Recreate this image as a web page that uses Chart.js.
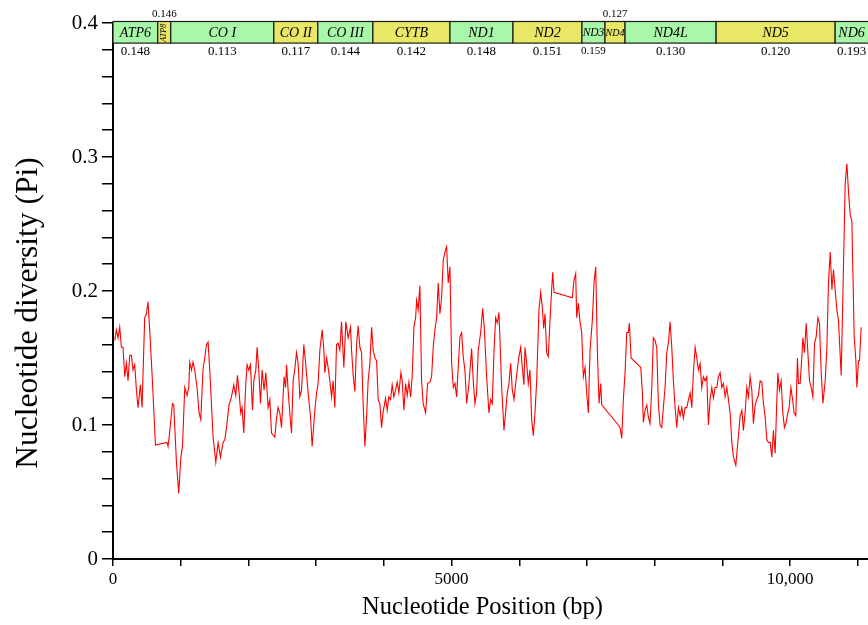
<!DOCTYPE html>
<html><head><meta charset="utf-8">
<script src="https://cdn.jsdelivr.net/npm/chart.js@4.4.1/dist/chart.umd.min.js"></script>
<style>html,body{margin:0;padding:0;background:#fff;overflow:hidden}</style>
</head><body>
<canvas id="c" width="868" height="625" style="width:868px;height:625px;display:block"></canvas>
<script>
// ---- data ----
const positions = [25,50,74,99,124,148,173,198,222,247,272,296,321,346,369,405,429,468,494,517,542,582,627,798,813,838,878,897,937,971,1000,1026,1060,1094,1119,1133,1159,1182,1207,1241,1271,1296,1330,1355,1380,1404,1429,1478,1518,1552,1587,1626,1651,1676,1714,1750,1784,1813,1838,1862,
1887,1906,1931,1961,1980,2005,2030,2060,2079,2109,2128,2153,2178,2202,2231,2257,2291,2316,2341,2390,2415,2438,2463,2489,2527,2548,2563,2586,2611,2636,2660,2685,2710,2734,2759,2784,2818,2843,2882,2917,2941,2981,3006,3029,3055,3089,3114,3128,3154,3177,3202,3228,3251,3276,3301,3325,3350,3375,3409,3439,3473,3508,3523,3547,3572,3597,3621,3646,3671,3694,3720,
3745,3768,3794,3819,3842,3867,3893,3916,3941,3966,3990,4026,4049,4074,4099,4123,4148,4173,4197,4222,4252,4271,4296,4321,4345,4370,4395,4419,4444,4469,4484,4507,4532,4557,4581,4617,4646,4680,4705,4729,4754,4779,4803,4828,4853,4877,4902,4927,4951,4976,5001,5025,5050,5075,5098,5124,5149,5172,5197,5223,5257,5296,5320,5345,5370,5394,5430,5459,5483,
5518,5552,5577,5601,5626,5651,5675,5700,5740,5774,5799,5823,5848,5873,5897,5922,5947,5970,5995,6021,6044,6069,6084,6109,6133,6158,6183,6207,6232,6257,6291,6316,6340,6360,6380,6405,6428,6454,6479,6494,6513,6783,6808,6833,6848,6872,6897,6922,6946,6971,6996,7020,7045,7079,7104,7129,7153,7178,7203,7218,
7463,7488,7513,7537,7562,7587,7611,7626,7651,7794,7818,7832,7857,7883,7906,7931,7957,7980,8005,8030,8054,8079,8104,8128,8153,8178,8202,8227,8252,8276,8301,8326,8350,8375,8400,8424,8449,8474,8498,8523,8548,8571,8597,8622,8645,8670,8695,8719,8744,8769,8793,8818,8843,8867,8892,8917,8941,8966,8991,9015,9040,9065,9089,9114,9139,9163,9198,9222,9247,9262,
9287,9310,9335,9360,9384,9409,9434,9458,9483,9508,9532,9557,9582,9606,9631,9656,9680,9705,9730,9753,9779,9804,9819,9842,9867,9892,9916,9941,9966,9985,10011,10034,10059,10084,10108,10123,10148,10173,10188,10212,10237,10262,10286,10311,10336,10360,10385,10410,10433,10459,10484,10518,10543,10566,10592,10617,10640,10665,10690,10714,10754,10788,10813,10838,10862,10887,10912,10946,10971,10986,11010,11025,11049];

const diversity = [0.163,0.171,0.165,0.173,0.158,0.158,0.136,0.146,0.133,0.152,0.152,0.141,0.145,0.126,0.113,0.130,0.113,0.180,0.183,0.192,0.171,0.133,0.085,0.087,0.084,0.095,0.116,0.115,0.072,0.049,0.075,0.084,0.128,0.122,0.128,0.147,0.141,0.147,0.141,0.128,0.109,0.104,0.142,0.150,0.160,0.162,0.141,0.091,0.072,0.087,0.076,0.087,0.089,0.098,0.115,0.121,0.130,0.122,0.137,0.124,
0.109,0.113,0.094,0.131,0.145,0.141,0.145,0.111,0.133,0.141,0.158,0.141,0.116,0.141,0.126,0.139,0.113,0.119,0.094,0.091,0.105,0.113,0.109,0.098,0.136,0.128,0.145,0.126,0.109,0.094,0.133,0.142,0.154,0.146,0.121,0.126,0.160,0.147,0.124,0.106,0.084,0.111,0.124,0.131,0.156,0.171,0.156,0.139,0.150,0.143,0.133,0.121,0.133,0.113,0.160,0.161,0.156,0.177,0.143,0.177,0.165,0.173,0.156,0.137,0.125,0.160,0.174,0.158,0.154,0.116,0.084,
0.106,0.133,0.146,0.173,0.156,0.150,0.148,0.119,0.116,0.098,0.110,0.120,0.111,0.121,0.119,0.130,0.121,0.126,0.132,0.124,0.139,0.133,0.111,0.131,0.122,0.132,0.121,0.137,0.173,0.180,0.193,0.186,0.204,0.133,0.116,0.109,0.131,0.132,0.136,0.158,0.171,0.180,0.206,0.183,0.195,0.223,0.229,0.233,0.206,0.218,0.146,0.128,0.131,0.121,0.143,0.166,0.169,0.151,0.141,0.116,0.131,0.157,0.133,0.116,0.124,0.156,0.169,0.187,0.173,
0.136,0.109,0.119,0.116,0.154,0.180,0.176,0.184,0.128,0.096,0.110,0.124,0.131,0.146,0.126,0.119,0.131,0.141,0.151,0.158,0.143,0.130,0.158,0.146,0.131,0.141,0.104,0.092,0.109,0.133,0.186,0.199,0.188,0.172,0.183,0.154,0.151,0.178,0.202,0.214,0.199,0.195,0.208,0.213,0.180,0.191,0.177,0.169,0.136,0.143,0.124,0.109,0.156,0.178,0.206,0.218,0.156,0.116,0.131,0.115,
0.100,0.098,0.090,0.119,0.139,0.169,0.169,0.176,0.150,0.143,0.124,0.102,0.111,0.115,0.106,0.101,0.128,0.165,0.163,0.158,0.116,0.100,0.098,0.113,0.128,0.154,0.161,0.177,0.158,0.133,0.113,0.098,0.113,0.107,0.113,0.105,0.113,0.113,0.119,0.124,0.113,0.139,0.158,0.150,0.141,0.146,0.128,0.136,0.133,0.136,0.100,0.119,0.128,0.120,0.128,0.128,0.136,0.139,0.128,0.131,0.121,0.128,0.119,0.109,0.087,0.076,0.070,0.084,0.098,0.107,
0.111,0.096,0.109,0.128,0.121,0.136,0.126,0.101,0.115,0.119,0.122,0.133,0.132,0.116,0.106,0.089,0.087,0.087,0.076,0.096,0.079,0.119,0.139,0.126,0.133,0.109,0.098,0.102,0.109,0.113,0.128,0.120,0.109,0.107,0.150,0.131,0.131,0.151,0.165,0.154,0.176,0.154,0.133,0.128,0.121,0.161,0.166,0.180,0.176,0.139,0.116,0.133,0.158,0.206,0.229,0.201,0.216,0.201,0.186,0.178,0.137,0.218,0.280,0.295,0.274,0.257,0.252,0.166,0.148,0.128,0.148,0.148,0.173];

const geneNames = ['ATP6','ATP8','CO I','CO II','CO III','CYTB','ND1','ND2','ND3','ND4','ND4L','ND5','ND6'];
const geneStart = [0,661,853,2375,3025,3838,4976,5907,6926,7266,7562,8907,10665];
const geneEnd   = [661,853,2375,3025,3838,4976,5907,6926,7266,7562,8907,10665,11400];
const genePi    = ['0.148','0.146','0.113','0.117','0.144','0.142','0.148','0.151','0.159','0.127','0.130','0.120','0.193'];

const xTickValues = [0,1000,2000,3000,4000,5000,6000,7000,8000,9000,10000,11000];
const xLabelTicks = [0, 5000, 10000];
const xLabelTexts = ['0', '5000', '10,000'];
const yTickValues = [0,0.02,0.04,0.06,0.08,0.1,0.12,0.14,0.16,0.18,0.2,0.22,0.24,0.26,0.28,0.3,0.32,0.34,0.36,0.38,0.4];
const yLabelTicks = [0, 0.1, 0.2, 0.3, 0.4];
const yLabelTexts = ['0', '0.1', '0.2', '0.3', '0.4'];
const xTitle = 'Nucleotide Position (bp)';
const yTitle = 'Nucleotide diversity (Pi)';

// ---- drawing ----
const SERIF = '"Liberation Serif", "Times New Roman", serif';
const GREEN = '#a9f8a9';
const YELLOW = '#e8e866';

const geneBar = {
  id: 'geneBar',
  afterDraw(chart) {
    const {ctx, scales: {x, y}} = chart;
    const top = y.getPixelForValue(0.4) - 1.5;
    const bot = y.getPixelForValue(0.385);
    ctx.save();
    for (let i = 0; i < geneNames.length; i++) {
      const x0 = x.getPixelForValue(geneStart[i]);
      const x1 = x.getPixelForValue(geneEnd[i]);
      const w = x1 - x0;
      ctx.fillStyle = (i % 2 === 0) ? GREEN : YELLOW;
      ctx.fillRect(x0, top, w, bot - top);
      ctx.strokeStyle = '#1a1a1a';
      ctx.lineWidth = 1.2;
      ctx.strokeRect(x0, top, w, bot - top);
      const cx = x0 + Math.min(w, 868 - x0) / 2;
      const cy = (top + bot) / 2;
      ctx.fillStyle = '#000';
      ctx.textAlign = 'center';
      ctx.textBaseline = 'middle';
      if (w < 16) {
        ctx.save();
        ctx.translate(cx, cy + 0.5);
        ctx.rotate(-Math.PI / 2);
        ctx.font = 'italic 8px ' + SERIF;
        ctx.fillText(geneNames[i], 0, 0);
        ctx.restore();
      } else {
        let fs = 14;
        ctx.font = 'italic ' + fs + 'px ' + SERIF;
        while (ctx.measureText(geneNames[i]).width > w - 1 && fs > 8) {
          fs -= 0.5;
          ctx.font = 'italic ' + fs + 'px ' + SERIF;
        }
        ctx.fillText(geneNames[i], cx, cy + 1);
      }
      if (w < 22) {
        ctx.font = '11px ' + SERIF;
        ctx.fillText(genePi[i], cx, top - 7);
      } else {
        ctx.font = (w < 30 ? 11 : 13) + 'px ' + SERIF;
        ctx.fillText(genePi[i], cx, bot + 8);
      }
    }
    // axis titles
    const area = chart.chartArea;
    ctx.fillStyle = '#000';
    ctx.textAlign = 'center';
    ctx.textBaseline = 'middle';
    ctx.font = '24.5px ' + SERIF;
    ctx.fillText(xTitle, (area.left + area.right) / 2 - 8, 608);
    ctx.save();
    ctx.translate(29, (area.top + area.bottom) / 2 + 22);
    ctx.rotate(-Math.PI / 2);
    ctx.font = '31.5px ' + SERIF;
    ctx.fillText(yTitle, 0, 0);
    ctx.restore();
    ctx.restore();
  }
};

const points = positions.map((p, i) => ({x: p, y: diversity[i]}));

new Chart(document.getElementById('c'), {
  type: 'line',
  data: {
    datasets: [{
      data: points,
      borderColor: '#ff0000',
      borderWidth: 1.1,
      pointRadius: 0,
      tension: 0,
      fill: false
    }]
  },
  options: {
    responsive: false,
    animation: false,
    devicePixelRatio: 1,
    layout: {padding: {top: 23, right: 0, left: 0, bottom: 0}},
    plugins: {legend: {display: false}, tooltip: {enabled: false}},
    scales: {
      x: {
        type: 'linear',
        min: 0,
        max: 11150,
        afterFit: s => { s.height = 66; },
        afterBuildTicks: s => { s.ticks = xTickValues.map(v => ({value: v})); },
        ticks: {
          autoSkip: false,
          maxRotation: 0,
          minRotation: 0,
          padding: 3,
          color: '#000',
          font: {family: SERIF, size: 17},
          callback: v => { const k = xLabelTicks.indexOf(Math.round(v)); return k >= 0 ? xLabelTexts[k] : ''; }
        },
        grid: {display: true, drawOnChartArea: false, drawTicks: true, tickLength: 7, color: '#000', lineWidth: 1.5},
        border: {display: true, color: '#000', width: 2},
        title: {display: false}
      },
      y: {
        type: 'linear',
        min: 0,
        max: 0.4,
        afterFit: s => { s.width = 113; },
        afterBuildTicks: s => { s.ticks = yTickValues.map(v => ({value: v})); },
        ticks: {
          autoSkip: false,
          padding: 4,
          color: '#000',
          font: {family: SERIF, size: 21},
          callback: v => { const k = yLabelTicks.findIndex(t => Math.abs(t - v) < 1e-6); return k >= 0 ? yLabelTexts[k] : ''; }
        },
        grid: {display: true, drawOnChartArea: false, drawTicks: true, tickLength: 11, color: '#000', lineWidth: 1.5},
        border: {display: true, color: '#000', width: 2},
        title: {display: false}
      }
    }
  },
  plugins: [geneBar]
});
</script>
</body></html>
